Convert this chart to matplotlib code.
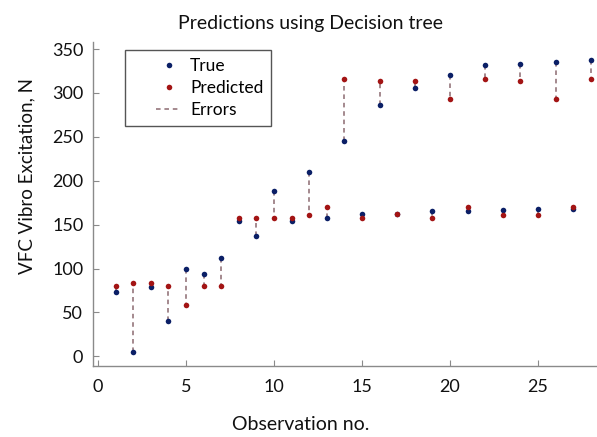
import numpy as np
import matplotlib.pyplot as plt
from matplotlib.lines import Line2D

plt.rcParams['font.family'] = ['Lato', 'DejaVu Sans']

obs = np.arange(1, 29)
true_vals = [73, 5, 79, 40, 99, 94, 112, 154, 137, 188, 154, 210, 157, 245,
             162, 286, 162, 306, 166, 320, 166, 332, 167, 333, 168, 335, 168, 338]
pred_vals = [80, 84, 84, 80, 58, 80, 80, 157, 157, 157, 157, 161, 170, 316,
             157, 314, 162, 314, 157, 293, 170, 316, 161, 314, 161, 293, 170, 316]

true_color = '#0b1f66'
pred_color = '#a31414'
err_color = '#8c6a70'
axis_color = '#8a8a8a'


class RightHandle:
    # draws the legend sample in the right half of the handle box
    def legend_artist(self, legend, orig_handle, fontsize, handlebox):
        x0, y0 = handlebox.xdescent, handlebox.ydescent
        w, h = handlebox.width, handlebox.height
        xs = [-x0 + w * 0.48, -x0 + w]
        ym = -y0 + h / 2
        if orig_handle.get_linestyle() not in ('None', ''):
            ln = Line2D(xs, [ym, ym], color=orig_handle.get_color(),
                        lw=orig_handle.get_linewidth(), linestyle='--',
                        dashes=(3, 2.5))
            handlebox.add_artist(ln)
            return ln
        mk = Line2D([(xs[0] + xs[1]) / 2], [ym], marker='o', linestyle='None',
                    color=orig_handle.get_color(), ms=orig_handle.get_markersize(),
                    mew=0)
        handlebox.add_artist(mk)
        return mk


fig = plt.figure(figsize=(5.97, 4.37), dpi=100)
ax = fig.add_axes([93 / 597, 71 / 437, 504 / 597, 324 / 437])

# dashed error segments between true and predicted
for i, (t, p) in enumerate(zip(true_vals, pred_vals)):
    ax.plot([obs[i], obs[i]], [t, p], '--', color=err_color, lw=1.1,
            dashes=(3, 2.5), label='Errors' if i == 0 else None, zorder=1)

ax.plot(obs, true_vals, 'o', color=true_color, ms=4, mew=0, label='True', zorder=3)
ax.plot(obs, pred_vals, 'o', color=pred_color, ms=4, mew=0, label='Predicted', zorder=3)

ax.set_xlim(-0.28, 28.35)
ax.set_ylim(-11, 358)
ax.set_xticks([0, 5, 10, 15, 20, 25])
ax.set_yticks(range(0, 351, 50))

for side in ['top', 'right']:
    ax.spines[side].set_visible(False)
for side in ['left', 'bottom']:
    ax.spines[side].set_color(axis_color)
    ax.spines[side].set_linewidth(1.0)
ax.tick_params(direction='in', length=4, color=axis_color, labelsize=13,
               labelcolor='#111111')
ax.tick_params(axis='x', pad=9)
ax.tick_params(axis='y', pad=7)

handles, labels = ax.get_legend_handles_labels()
order = [labels.index('True'), labels.index('Predicted'), labels.index('Errors')]
hs = [handles[k] for k in order]
leg = ax.legend(hs, [labels[k] for k in order],
                handler_map={h: RightHandle() for h in hs},
                loc='upper left', bbox_to_anchor=(0.0635, 0.975), fontsize=12.5,
                fancybox=False, framealpha=1, edgecolor='#555555',
                handlelength=2.8, handletextpad=0.5, borderpad=0.45,
                labelspacing=0.35, borderaxespad=0)
leg.get_frame().set_linewidth(1.0)

fig.text(310 / 597, 1 - 23 / 437, 'Predictions using Decision tree',
         ha='center', va='center', fontsize=14, color='#111111')
fig.text(301 / 597, 1 - 424 / 437, 'Observation no.',
         ha='center', va='center', fontsize=14, color='#111111')
fig.text(27 / 597, 1 - 176 / 437, 'VFC Vibro Excitation, N', rotation=90,
         ha='center', va='center', fontsize=13.5, color='#111111')

fig.savefig('out.png', dpi=100)
